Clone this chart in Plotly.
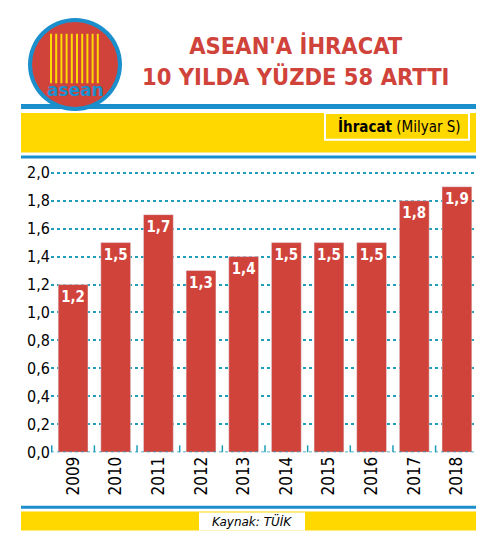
import plotly.graph_objects as go

years = ["2009", "2010", "2011", "2012", "2013", "2014", "2015", "2016", "2017", "2018"]
values = [1.2, 1.5, 1.7, 1.3, 1.4, 1.5, 1.5, 1.5, 1.8, 1.9]
labels = ["1,2", "1,5", "1,7", "1,3", "1,4", "1,5", "1,5", "1,5", "1,8", "1,9"]
ytick_vals = [0, 0.2, 0.4, 0.6, 0.8, 1.0, 1.2, 1.4, 1.6, 1.8, 2.0]
ytick_text = ["0,0", "0,2", "0,4", "0,6", "0,8", "1,0", "1,2", "1,4", "1,6", "1,8", "2,0"]

W, H = 484, 537
RED = "#d0433b"
BLUE = "#1b8fcc"
YEL = "#ffd800"
TEAL = "#1f9cb8"
COND = "DejaVu Sans Condensed"

def py(y):
    yf = (y - 12) / 0.977
    return 1 - yf / H

def px(x):
    return (x - 5) / W

fig = go.Figure(go.Bar(
    x=years, y=values, text=["<b>%s</b>" % t for t in labels], textposition="inside", textangle=0,
    insidetextanchor="end",
    textfont=dict(family=COND, size=17, color="white"),
    marker=dict(color=RED), width=0.7,
))

shapes = [
    dict(type="rect", xref="paper", yref="paper", x0=px(18), x1=px(480), y0=py(106), y1=py(101), fillcolor=BLUE, line_width=0),
    dict(type="rect", xref="paper", yref="paper", x0=px(18), x1=px(480), y0=py(150), y1=py(110), fillcolor=YEL, line_width=0),
    dict(type="rect", xref="paper", yref="paper", x0=px(18), x1=px(480), y0=py(156), y1=py(153), fillcolor=BLUE, line_width=0),
    dict(type="rect", xref="paper", yref="paper", x0=px(322), x1=px(466), y0=py(137), y1=py(110), fillcolor=YEL, line=dict(color="white", width=2)),
    dict(type="rect", xref="paper", yref="paper", x0=px(18), x1=px(480), y0=py(510), y1=py(507), fillcolor=BLUE, line_width=0),
    dict(type="rect", xref="paper", yref="paper", x0=px(18), x1=px(480), y0=py(532), y1=py(513), fillcolor=YEL, line_width=0),
    dict(type="rect", xref="paper", yref="paper", x0=px(196), x1=px(302), y0=py(532), y1=py(514), fillcolor="white", line_width=0),
    dict(type="circle", xref="paper", yref="paper", x0=px(25), x1=px(119), y0=py(108), y1=py(14), fillcolor=BLUE, line_width=0),
    dict(type="circle", xref="paper", yref="paper", x0=px(29), x1=px(115), y0=py(104), y1=py(18), fillcolor=RED, line_width=0),
    dict(type="line", xref="paper", yref="y", x0=px(48), x1=px(476), y0=0, y1=0, line=dict(color=TEAL, width=1.5, dash="dot")),
]
for i in range(len(years) + 1):
    shapes.append(dict(type="line", xref="x", yref="paper", x0=i - 0.5, x1=i - 0.5,
                       y0=py(453), y1=py(446), line=dict(color=TEAL, width=1.5)))
for k in range(10):
    xx = 48 + k * 5.2
    shapes.append(dict(type="line", xref="paper", yref="paper", x0=px(xx), x1=px(xx),
                       y0=py(30), y1=py(80), line=dict(color=YEL, width=2)))

annotations = [
    dict(text="<b>ASEAN'A İHRACAT<br>10 YILDA YÜZDE 58 ARTTI</b>", xref="paper", yref="paper",
         x=px(292), y=py(58), xanchor="center", yanchor="middle", showarrow=False,
         font=dict(family=COND, size=23.5, color=RED)),
    dict(text="<b>asean</b>", xref="paper", yref="paper", x=px(72), y=py(87), xanchor="center",
         yanchor="middle", showarrow=False, font=dict(family="DejaVu Sans", size=17, color=BLUE)),
    dict(text="<b>İhracat</b> (Milyar S)", xref="paper", yref="paper", x=px(460), y=py(124),
         xanchor="right", yanchor="middle", showarrow=False, font=dict(family=COND, size=15, color="black")),
    dict(text="<i>Kaynak: TÜİK</i>", xref="paper", yref="paper", x=px(249), y=py(523),
         xanchor="center", yanchor="middle", showarrow=False, font=dict(family="DejaVu Sans", size=12, color="black")),
]

fig.update_layout(
    width=W, height=H, margin=dict(l=0, r=0, t=0, b=0),
    paper_bgcolor="white", plot_bgcolor="white", showlegend=False,
    shapes=shapes, annotations=annotations, bargap=0.3,
    xaxis=dict(domain=[px(48), px(476)], tickangle=-90, showgrid=False, showline=False,
               tickfont=dict(family=COND, size=17, color="black"), ticks=""),
    yaxis=dict(domain=[py(453), py(169)], range=[0, 2.01], tickvals=ytick_vals, ticktext=ytick_text,
               showgrid=True, gridcolor=TEAL, griddash="dot", gridwidth=1.5, zeroline=False,
               tickfont=dict(family=COND, size=16, color="black"), ticks=""),
)
fig.write_html("out.html")
